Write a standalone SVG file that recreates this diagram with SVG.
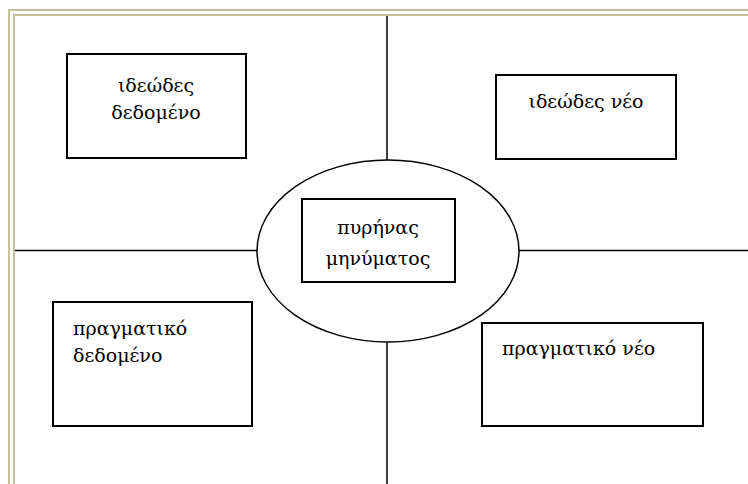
<svg xmlns="http://www.w3.org/2000/svg" width="748" height="484" viewBox="0 0 748 484">
<style>
.frame{fill:none;stroke:#c8c09a;stroke-width:2}
.line{stroke:#000;stroke-width:1.5;fill:none}
.box{fill:#fff;stroke:#000;stroke-width:2}
.ell{fill:#fff;stroke:#000;stroke-width:1.5}
.t{font-family:"DejaVu Serif","Liberation Serif",serif;font-size:19px;fill:#000}
.c{text-anchor:middle}
</style>
<rect x="0" y="0" width="748" height="484" fill="#fff"/>
<g id="frame">
<polyline class="frame" points="9,484 9,10 748,10"/>
<polyline class="frame" points="14,484 14,15 748,15"/>
</g>
<g id="connectors">
<line class="line" x1="387" y1="16" x2="387" y2="160"/>
<line class="line" x1="387" y1="342" x2="387" y2="484"/>
<line class="line" x1="15" y1="250.5" x2="257" y2="250.5"/>
<line class="line" x1="519" y1="250.5" x2="748" y2="250.5"/>
</g>
<g id="ideal-given">
<rect class="box" x="67" y="54" width="179" height="104"/>
<text class="t c" x="156" y="92">ιδεώδες</text>
<text class="t c" x="156" y="119">δεδομένο</text>
</g>
<g id="ideal-new">
<rect class="box" x="496" y="75" width="180" height="84"/>
<text class="t c" x="586" y="108">ιδεώδες νέο</text>
</g>
<g id="core">
<ellipse class="ell" cx="388" cy="251" rx="131" ry="91"/>
<rect class="box" x="302" y="199" width="153" height="83"/>
<text class="t c" x="378" y="234">πυρήνας</text>
<text class="t c" x="378" y="265">μηνύματος</text>
</g>
<g id="real-given">
<rect class="box" x="53" y="302" width="199" height="124"/>
<text class="t" x="73" y="335">πραγματικό</text>
<text class="t" x="73" y="362">δεδομένο</text>
</g>
<g id="real-new">
<rect class="box" x="482" y="323" width="221" height="103"/>
<text class="t" x="502" y="355">πραγματικό νέο</text>
</g>
</svg>
